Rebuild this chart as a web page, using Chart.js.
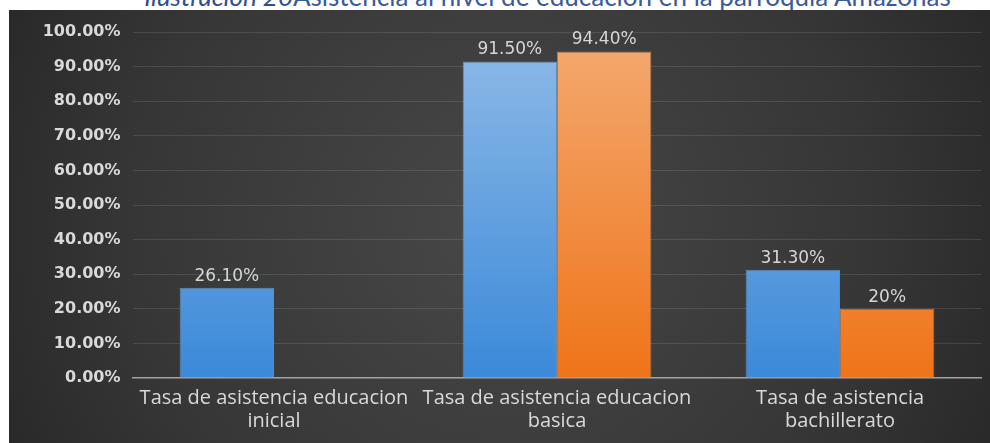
<!DOCTYPE html>
<html>
<head>
<meta charset="utf-8">
<script src="https://cdn.jsdelivr.net/npm/chart.js@4.4.1/dist/chart.umd.min.js"></script>
<style>
  html, body { margin: 0; padding: 0; background: #ffffff; width: 990px; height: 443px; overflow: hidden; }
  #title { position: absolute; left: 0; width: 1095px; top: -17px; text-align: center; white-space: nowrap;
           font-family: "Lato", "DejaVu Sans", sans-serif; font-size: 26px; line-height: 26px; color: #3a5a9c; }
  #title i { color: #2f4f92; }
  #box { position: absolute; left: 9px; top: 10px; width: 981px; height: 433px; }
</style>
</head>
<body>
<div id="title"><i>Ilustración 20</i>Asistencia al nivel de educación en la parroquia Amazonas</div>
<div id="box"><canvas id="c" width="981" height="433"></canvas></div>
<script>
const categories = [
  ["Tasa de asistencia educacion", "inicial"],
  ["Tasa de asistencia educacion", "basica"],
  ["Tasa de asistencia", "bachillerato"]
];
const seriesBlue = [26.1, 91.5, 31.3];
const seriesOrange = [null, 94.4, 20];
const labelsBlue = ["26.10%", "91.50%", "31.30%"];
const labelsOrange = ["", "94.40%", "20%"];
const yMin = 0, yMax = 100, yStep = 10;

function vGrad(ctx, area, top, bottom) {
  if (!area) return bottom;
  const g = ctx.createLinearGradient(0, area.top, 0, area.bottom);
  g.addColorStop(0, top);
  g.addColorStop(1, bottom);
  return g;
}

const bgPlugin = {
  id: 'bg',
  beforeDraw(chart) {
    const ctx = chart.ctx, w = chart.width, h = chart.height;
    ctx.save();
    const g = ctx.createRadialGradient(w * 0.5, h * 0.5, 10, w * 0.5, h * 0.5, w * 0.62);
    g.addColorStop(0, '#474747');
    g.addColorStop(0.6, '#363636');
    g.addColorStop(1, '#242424');
    ctx.fillStyle = g;
    ctx.fillRect(0, 0, w, h);
    ctx.restore();
  }
};

const labelPlugin = {
  id: 'vlabels',
  afterDatasetsDraw(chart) {
    const ctx = chart.ctx;
    const texts = [labelsBlue, labelsOrange];
    ctx.save();
    ctx.font = '17px "DejaVu Sans", sans-serif';
    ctx.fillStyle = '#d6d6d6';
    ctx.textAlign = 'center';
    ctx.textBaseline = 'bottom';
    chart.data.datasets.forEach((ds, di) => {
      const meta = chart.getDatasetMeta(di);
      meta.data.forEach((el, i) => {
        if (ds.data[i] === null || ds.data[i] === undefined) return;
        ctx.fillText(texts[di][i], el.x, el.y - 3);
      });
    });
    ctx.restore();
  }
};

new Chart(document.getElementById('c'), {
  type: 'bar',
  data: {
    labels: categories,
    datasets: [
      {
        label: 'Serie 1',
        data: seriesBlue,
        backgroundColor: (c) => vGrad(c.chart.ctx, c.chart.chartArea, '#8fbbe7', '#3b89d9'),
        borderColor: 'rgba(140,190,240,0.6)',
        borderWidth: 1
      },
      {
        label: 'Serie 2',
        data: seriesOrange,
        backgroundColor: (c) => vGrad(c.chart.ctx, c.chart.chartArea, '#f4aa72', '#ef7419'),
        borderColor: 'rgba(245,160,100,0.6)',
        borderWidth: 1
      }
    ]
  },
  options: {
    responsive: false,
    animation: false,
    layout: { padding: { top: 22, right: 8.5, left: 0, bottom: 0 } },
    plugins: { legend: { display: false }, tooltip: { enabled: false }, title: { display: false } },
    datasets: { bar: { categoryPercentage: 0.667, barPercentage: 1.0 } },
    scales: {
      x: {
        grid: { display: false, drawTicks: false },
        border: { display: true, color: '#a3a3a3', width: 1.5 },
        ticks: {
          color: '#d9d9d9',
          autoSkip: false, maxRotation: 0, minRotation: 0,
          padding: 9,
          font: { family: '"Open Sans", sans-serif', size: 20, lineHeight: 1.15 }
        },
        afterFit(scale) { scale.height = 65; }
      },
      y: {
        min: yMin, max: yMax,
        grid: {
          drawTicks: false,
          color: (c) => c.tick && c.tick.value === 0 ? 'rgba(0,0,0,0)' : 'rgba(255,255,255,0.11)',
          lineWidth: 1
        },
        border: { display: false },
        ticks: {
          stepSize: yStep,
          color: '#d9d9d9',
          padding: 12,
          font: { family: '"DejaVu Sans", sans-serif', size: 16, weight: 'bold' },
          callback: (v) => v.toFixed(2) + '%'
        },
        afterFit(scale) { scale.width = 123.5; }
      }
    }
  },
  plugins: [bgPlugin, labelPlugin]
});
</script>
</body>
</html>
